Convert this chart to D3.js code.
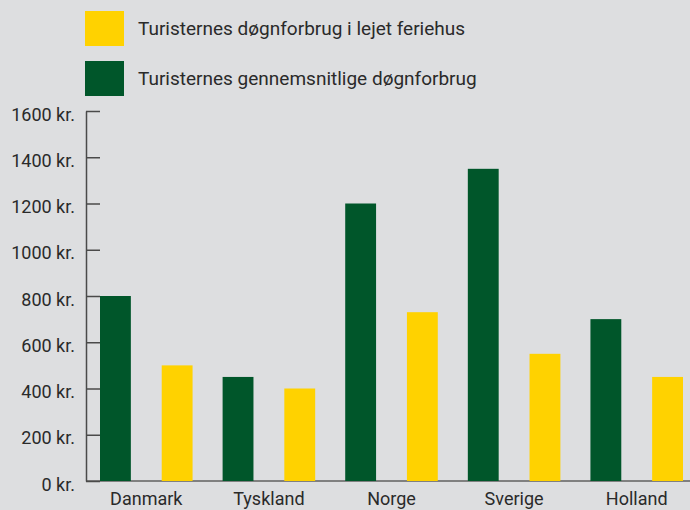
<!DOCTYPE html>
<html>
<head>
<meta charset="utf-8">
<script src="https://cdn.jsdelivr.net/npm/d3@7"></script>
<style>
  html, body { margin: 0; padding: 0; background: #dddee0; }
  svg { display: block; font-family: Roboto, "Liberation Sans", sans-serif; }
</style>
</head>
<body>
<div class="canvas"></div>
<script>
// data
const countries = ["Danmark", "Tyskland", "Norge", "Sverige", "Holland"];
const series = ["gennemsnit", "feriehus"];
const seriesLabels = ["Turisternes gennemsnitlige døgnforbrug", "Turisternes døgnforbrug i lejet feriehus"];
const avgSpend = [800, 450, 1200, 1350, 700];
const houseSpend = [500, 400, 730, 550, 450];
const yTicks = [0, 200, 400, 600, 800, 1000, 1200, 1400, 1600];

const colors = { gennemsnit: "#00562a", feriehus: "#ffd200" };

const width = 690;
const height = 510;

const svg = d3
  .select(".canvas")
  .append("svg")
  .attr("width", width)
  .attr("height", height);

const data = countries.map((c, i) => ({
  country: c,
  values: [
    { key: "gennemsnit", value: avgSpend[i] },
    { key: "feriehus", value: houseSpend[i] },
  ],
}));

//scales
const axisX = 86;
const x0 = d3.scaleBand().domain(countries).range([100, 683]).paddingInner(0.245).paddingOuter(0);
const x1 = d3.scaleBand().domain(series).range([0, x0.bandwidth()]).paddingInner(0.5).paddingOuter(0);
const y = d3.scaleLinear().domain([0, 1600]).range([481, 111]);

//baseline
svg
  .append("line")
  .attr("x1", axisX)
  .attr("x2", width)
  .attr("y1", y(0))
  .attr("y2", y(0))
  .attr("stroke", "#808080")
  .attr("stroke-width", 2);

//bars
const groups = svg
  .selectAll("g.country")
  .data(data)
  .enter()
  .append("g")
  .attr("class", "country")
  .attr("transform", (d) => `translate(${x0(d.country)},0)`);

groups
  .selectAll("rect")
  .data((d) => d.values)
  .enter()
  .append("rect")
  .attr("x", (d) => x1(d.key))
  .attr("width", x1.bandwidth())
  .attr("y", (d) => y(d.value))
  .attr("height", (d) => y(0) - y(d.value))
  .attr("fill", (d) => colors[d.key]);

//y axis
const yAxis = d3
  .axisRight(y)
  .tickValues(yTicks)
  .tickSize(14)
  .tickSizeOuter(0)
  .tickFormat((d) => d + " kr.");

const yAxisGroup = svg
  .append("g")
  .attr("class", "y-axis")
  .attr("transform", `translate(${axisX},0)`)
  .call(yAxis);

yAxisGroup.select(".domain").attr("stroke", "#4a4a4a").attr("stroke-width", 1.5);
yAxisGroup.selectAll(".tick line").attr("stroke", "#4a4a4a").attr("stroke-width", 1.5);
yAxisGroup
  .selectAll(".tick text")
  .attr("x", -11)
  .attr("dy", "0.5em")
  .attr("text-anchor", "end")
  .attr("fill", "#2a2a2a")
  .style("font-family", "Roboto, sans-serif")
  .style("font-size", "18px");

//x labels
svg
  .selectAll("text.country")
  .data(countries)
  .enter()
  .append("text")
  .attr("class", "country")
  .attr("x", (d) => x0(d) + x0.bandwidth() / 2)
  .attr("y", 505)
  .attr("text-anchor", "middle")
  .attr("fill", "#2a2a2a")
  .style("font-size", "18px")
  .text((d) => d);

//legend
const legendItems = [
  { key: "feriehus", label: seriesLabels[1] },
  { key: "gennemsnit", label: seriesLabels[0] },
];

const legend = svg
  .selectAll("g.legend")
  .data(legendItems)
  .enter()
  .append("g")
  .attr("class", "legend")
  .attr("transform", (d, i) => `translate(85,${11 + i * 50})`);

legend
  .append("rect")
  .attr("width", 39)
  .attr("height", 35)
  .attr("fill", (d) => colors[d.key]);

legend
  .append("text")
  .attr("x", 53)
  .attr("y", 24)
  .attr("fill", "#2a2a2a")
  .style("font-size", "19px")
  .text((d) => d.label);
</script>
</body>
</html>
